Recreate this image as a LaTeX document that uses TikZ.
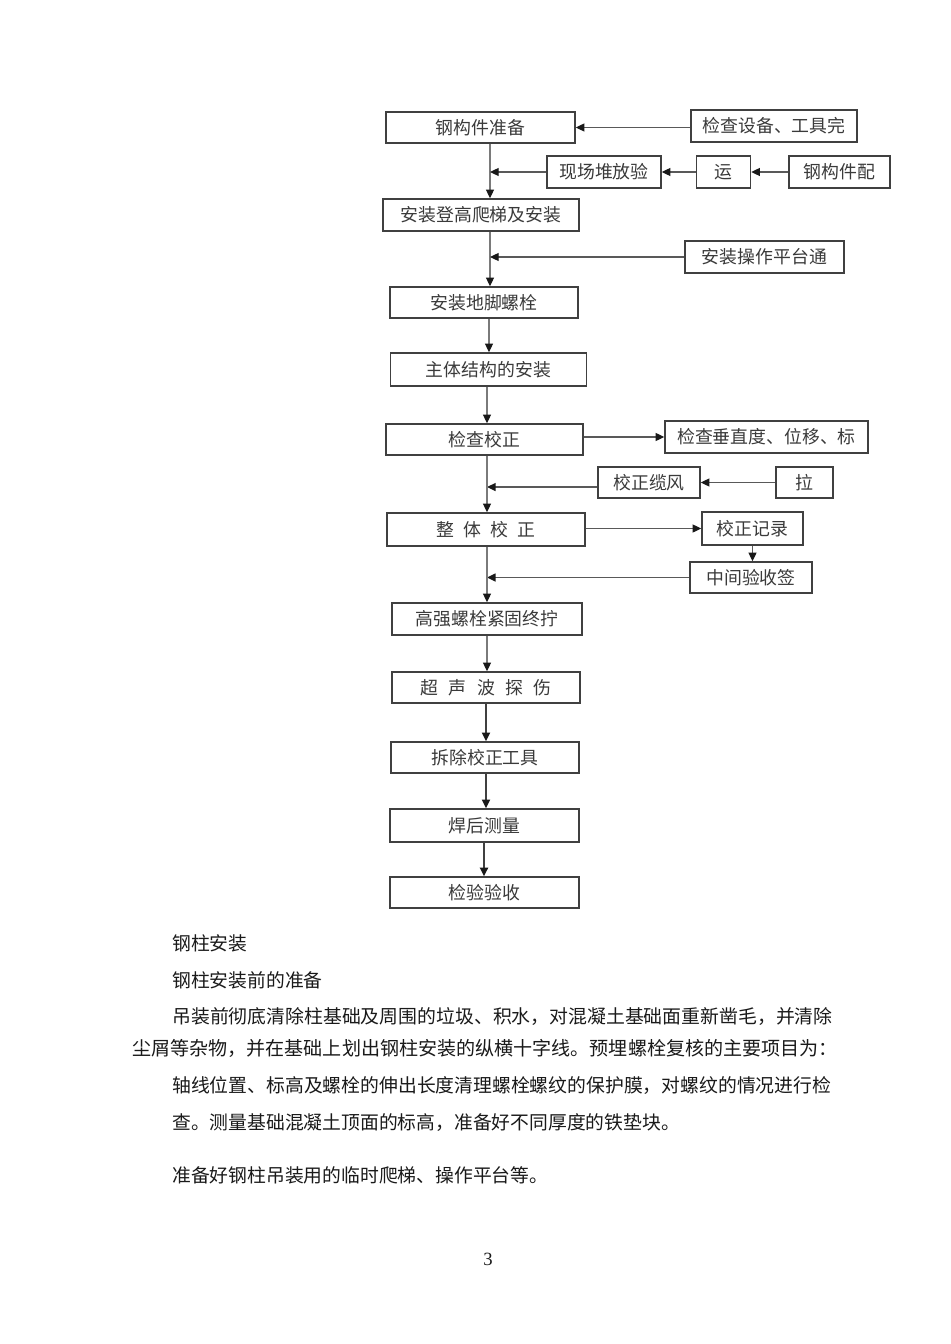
\documentclass[tikz,border=0pt]{standalone}
\usepackage{fontspec}
\newfontfamily\cjk{Noto Sans CJK SC}
\setmainfont{Liberation Serif}
\usetikzlibrary{arrows.meta}
\definecolor{boxline}{HTML}{404040}
\definecolor{boxtext}{HTML}{3A3A3A}
\definecolor{conn}{HTML}{7A7A7A}
\definecolor{bodytext}{HTML}{1A1A1A}
\tikzset{
  boxw/.style={minimum width={#1*0.75pt}},
  boxh/.style={minimum height={#1*0.75pt}},
  flowbox/.style={draw=boxline, line width=1.1pt, fill=white, inner sep=0pt,
    text=boxtext, font=\cjk\fontsize{13.4pt}{13.4pt}\selectfont, boxh=32},
  arr/.style={-{Triangle[length=6.5pt,width=6pt,color=black!90,fill=black!90]}},
  vline/.style={draw=conn, line width=0.8pt, arr},
  hline/.style={draw=black!65, line width=0.9pt, arr},
  dline/.style={draw=black!75, line width=1.3pt, arr},
  bodyline/.style={anchor=west, inner sep=0pt, text=bodytext},
}
\begin{document}
\begin{tikzpicture}[x=0.75pt,y=-0.75pt]
\fill[white] (0,0) rectangle (950,1344);
\useasboundingbox (0,0) rectangle (950,1344);

% named x positions of the main spine
\coordinate (xa) at (490,0);
\coordinate (xm) at (489,0);
\coordinate (xb) at (487,0);
\coordinate (xc) at (486,0);
\coordinate (xd) at (484,0);

% boxes
\node[flowbox, boxw=189, boxh=31] (gjzb) at (480.5,127.5) {钢构件准备};
\node[flowbox, boxw=166] (jcsb) at (774,126) {检查设备、工具完};
\node[flowbox, boxw=114] (xcdf) at (604,172) {现场堆放验};
\node[flowbox, boxw=54] (yun) at (723.5,172) {运};
\node[flowbox, boxw=101] (gjjp) at (839.5,172) {钢构件配};
\node[flowbox, boxw=196] (azdg) at (481,215) {安装登高爬梯及安装};
\node[flowbox, boxw=159] (azcz) at (764.5,257) {安装操作平台通};
\node[flowbox, boxw=188, boxh=31] (azdj) at (484,302.5) {安装地脚螺栓};
\node[flowbox, boxw=196, boxh=33] (ztjg) at (488.5,369.5) {主体结构的安装};
\node[flowbox, boxw=197, boxh=31] (jcjz) at (484.5,439.5) {检查校正};
\node[flowbox, boxw=203] (jccz) at (766.5,437) {检查垂直度、位移、标};
\node[flowbox, boxw=102, boxh=31] (jzlf) at (649,482.5) {校正缆风};
\node[flowbox, boxw=57, boxh=31] (la) at (804.5,482.5) {拉};
\node[flowbox, boxw=198, boxh=33] (ztjz) at (486,529.5) {整\hspace{0.5em}体\hspace{0.5em}校\hspace{0.5em}正};
\node[flowbox, boxw=101, boxh=33] (jzjl) at (752.5,528.5) {校正记录};
\node[flowbox, boxw=122, boxh=31] (zjys) at (751,577.5) {中间验收签};
\node[flowbox, boxw=190] (gqls) at (487,619) {高强螺栓紧固终拧};
\node[flowbox, boxw=188, boxh=31] (csb) at (486,687.5) {超\hspace{0.58em}声\hspace{0.58em}波\hspace{0.58em}探\hspace{0.58em}伤};
\node[flowbox, boxw=188, boxh=31] (ccjz) at (485,757.5) {拆除校正工具};
\node[flowbox, boxw=189, boxh=33] (hhcl) at (484.5,825.5) {焊后测量};
\node[flowbox, boxw=189, boxh=31] (jyys) at (484.5,892.5) {检验验收};

% connectors
\draw[hline] (jcsb.west |- gjzb.east) -- (gjzb.east);
\draw[vline] (gjzb.south -| xa) -- (azdg.north -| xa);
\draw[hline] (gjjp.west) -- (yun.east);
\draw[hline] (yun.west) -- (xcdf.east);
\draw[hline] (xcdf.west) -- (xcdf.west -| xa);
\draw[vline] (azdg.south -| xa) -- (azdj.north -| xa);
\draw[hline] (azcz.west) -- (azcz.west -| xa);
\draw[vline] (azdj.south -| xm) -- (ztjg.north -| xm);
\draw[vline] (ztjg.south -| xb) -- (jcjz.north -| xb);
\draw[hline] (jcjz.east |- jccz.west) -- (jccz.west);
\draw[hline] (la.west) -- (jzlf.east);
\draw[hline, line width=1.1pt] ([yshift=-3.4pt]jzlf.west) -- ([yshift=-3.4pt]jzlf.west -| xb);
\draw[vline] (jcjz.south -| xb) -- (ztjz.north -| xb);
\draw[hline] (ztjz.east |- jzjl.west) -- (jzjl.west);
\draw[hline] (jzjl.south) -- (jzjl.south |- zjys.north);
\draw[hline, line width=1.1pt] (zjys.west) -- (zjys.west -| xb);
\draw[vline] (ztjz.south -| xb) -- (gqls.north -| xb);
\draw[vline] (gqls.south -| xb) -- (csb.north -| xb);
\draw[dline] (csb.south -| xc) -- (ccjz.north -| xc);
\draw[dline] (ccjz.south -| xc) -- (hhcl.north -| xc);
\draw[dline, line width=1.6pt] (hhcl.south -| xd) -- (jyys.north -| xd);

% body text
\node[bodyline, font=\cjk\fontsize{14.1pt}{14.1pt}\selectfont] (t1) at (172,943) {钢柱安装};
\node[bodyline, font=\cjk\fontsize{14.1pt}{14.1pt}\selectfont] (t2) at (172,980) {钢柱安装前的准备};
\node[bodyline, font=\cjk\fontsize{14.15pt}{14.15pt}\selectfont] (t3) at (172,1017) {吊装前彻底清除柱基础及周围的垃圾、积水，对混凝土基础面重新凿毛，并清除};
\node[bodyline, font=\cjk\fontsize{14.3pt}{14.3pt}\selectfont] (t4) at (132,1048) {尘屑等杂物，并在基础上划出钢柱安装的纵横十字线。预埋螺栓复核的主要项目为：};
\node[bodyline, font=\cjk\fontsize{14.12pt}{14.12pt}\selectfont] (t5) at (172,1086) {轴线位置、标高及螺栓的伸出长度清理螺栓螺纹的保护膜，对螺纹的情况进行检};
\node[bodyline, font=\cjk\fontsize{14.1pt}{14.1pt}\selectfont] (t6) at (172,1123) {查。测量基础混凝土顶面的标高，准备好不同厚度的铁垫块。};
\node[bodyline, font=\cjk\fontsize{14.1pt}{14.1pt}\selectfont] (t7) at (172,1175) {准备好钢柱吊装用的临时爬梯、操作平台等。};
\node[inner sep=0pt, text=bodytext, font=\fontsize{14pt}{14pt}\selectfont] (pg) at (488,1259) {3};
\end{tikzpicture}
\end{document}
